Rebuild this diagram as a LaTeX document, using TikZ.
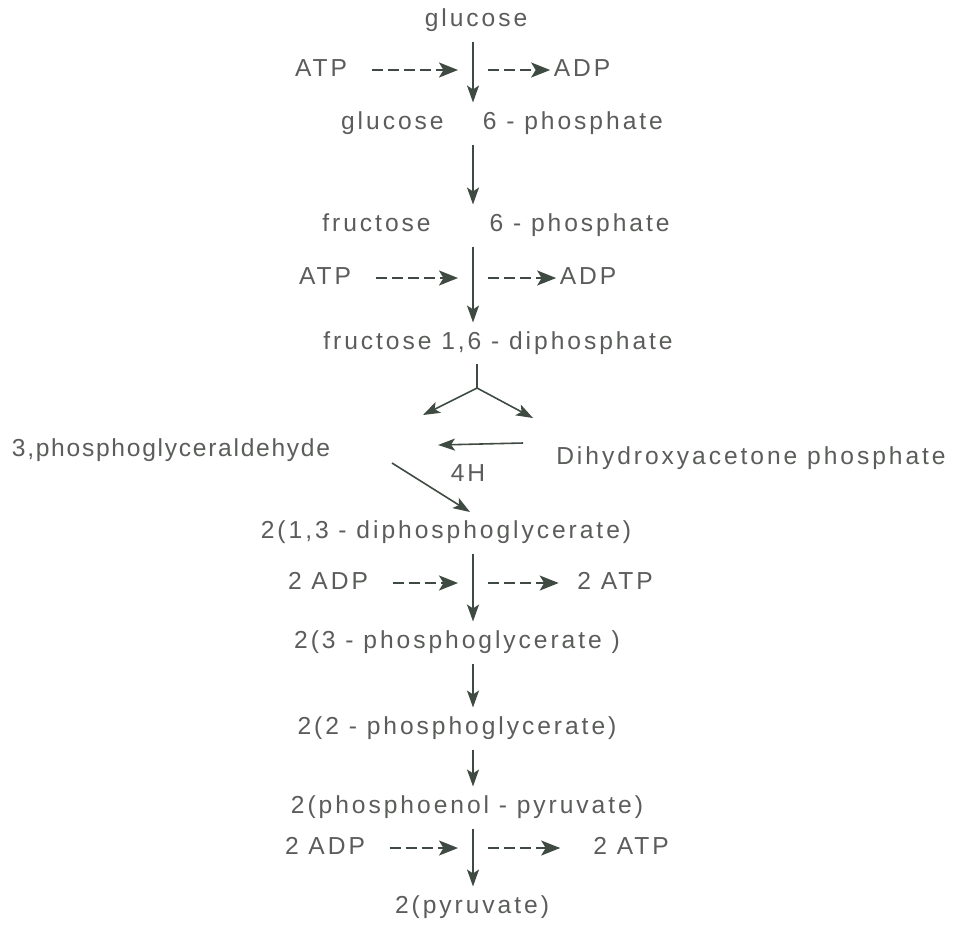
\documentclass[tikz,border=0pt]{standalone}
\usepackage{fontspec}
\setmainfont{Liberation Sans}[LetterSpace=12]
\usetikzlibrary{arrows.meta}
\usepackage{xcolor}
\definecolor{inkc}{HTML}{5A5D5A}
\definecolor{linec}{HTML}{3E4A42}

\begin{document}
\begin{tikzpicture}[
    x=0.02cm, y=-0.02cm,
    lbl/.style={inner sep=1pt, text=inkc, font=\fontsize{14}{16}\selectfont, text height=10pt, text depth=3pt},
    flow/.style={-{Stealth[length=3.4mm, width=2.4mm, inset=0.8mm]}, linec, line width=0.9pt},
    side/.style={-{Stealth[length=3.8mm, width=3mm, inset=0.9mm]}, linec, line width=1.1pt, dash pattern=on 2.2mm off 1mm}]

  % page, same size as the reference
  \fill[white] (0,0) rectangle (955,924);
  \coordinate (spine) at (473,0);

  % main chain
  \node[lbl] (glc)  at (476,20)  {glucose};
  \node[lbl] (g6p)  at (502,123) {glucose\hspace{1.6em}6 - phosphate};
  \node[lbl] (f6p)  at (496,225) {fructose\hspace{2.4em}6 - phosphate};
  \node[lbl] (fdp)  at (498,343) {fructose 1,6 - diphosphate};
  \node[lbl] (gap)  at (171,450) {\addfontfeature{LetterSpace=7}3,phosphoglyceraldehyde};
  \node[lbl] (dhap) at (751,458) {Dihydroxyacetone phosphate};
  \node[lbl] (h4)   at (468,475) {4H};
  \node[lbl] (bpg)  at (446,532) {2(1,3 - diphosphoglycerate)};
  \node[lbl] (pg3)  at (457,642) {2(3 - phosphoglycerate )};
  \node[lbl] (pg2)  at (457,728) {2(2 - phosphoglycerate)};
  \node[lbl] (pep)  at (467,807) {2(phosphoenol - pyruvate)};
  \node[lbl] (pyr)  at (472,907) {2(pyruvate)};

  % side substrates
  \node[lbl] (atp1) at (321,70)  {ATP};
  \node[lbl] (adp1) at (582,70)  {ADP};
  \node[lbl] (atp2) at (325,278) {ATP};
  \node[lbl] (adp2) at (588,278) {ADP};
  \node[lbl] (adp3) at (328,583) {2 ADP};
  \node[lbl] (atp3) at (615,583) {2 ATP};
  \node[lbl] (adp4) at (325,848) {2 ADP};
  \node[lbl] (atp4) at (631,848) {2 ATP};

  % straight steps down the spine
  \foreach \a/\b in {glc/g6p, g6p/f6p, f6p/fdp, bpg/pg3, pg3/pg2, pg2/pep, pep/pyr} {
    \draw[flow, shorten <=0.16cm, shorten >=0.14cm] (\a.south -| spine) -- (\b.north -| spine);
  }

  % coupled ATP / ADP (dashed in, dashed out)
  \foreach \l/\r/\g in {atp1/adp1/0.03, atp2/adp2/0.03, adp3/atp3/0.33, adp4/atp4/0.62} {
    \draw[side, shorten <=0.45cm, shorten >=0.3cm] (\l.east) -- (spine |- \l);
    \draw[side, shorten <=0.3cm, shorten >=\g cm] (spine |- \r) -- (\r.west);
  }

  % aldolase split
  \coordinate (fork)  at (477,388);
  \coordinate (forkL) at (423,415);
  \coordinate (forkR) at (533,418);
  \draw[linec, line width=0.9pt, shorten <=0.14cm] (fdp.south -| fork) -- (fork);
  \draw[flow] (fork) -- (forkL);
  \draw[flow] (fork) -- (forkR);

  % isomerase and oxidation
  \coordinate (isoR) at (523,443);
  \coordinate (isoL) at (438,445);
  \draw[flow] (isoR) -- (isoL);
  \coordinate (oxA) at (392,463);
  \coordinate (oxB) at (470,512);
  \draw[flow] (oxA) -- (oxB);
\end{tikzpicture}
\end{document}
